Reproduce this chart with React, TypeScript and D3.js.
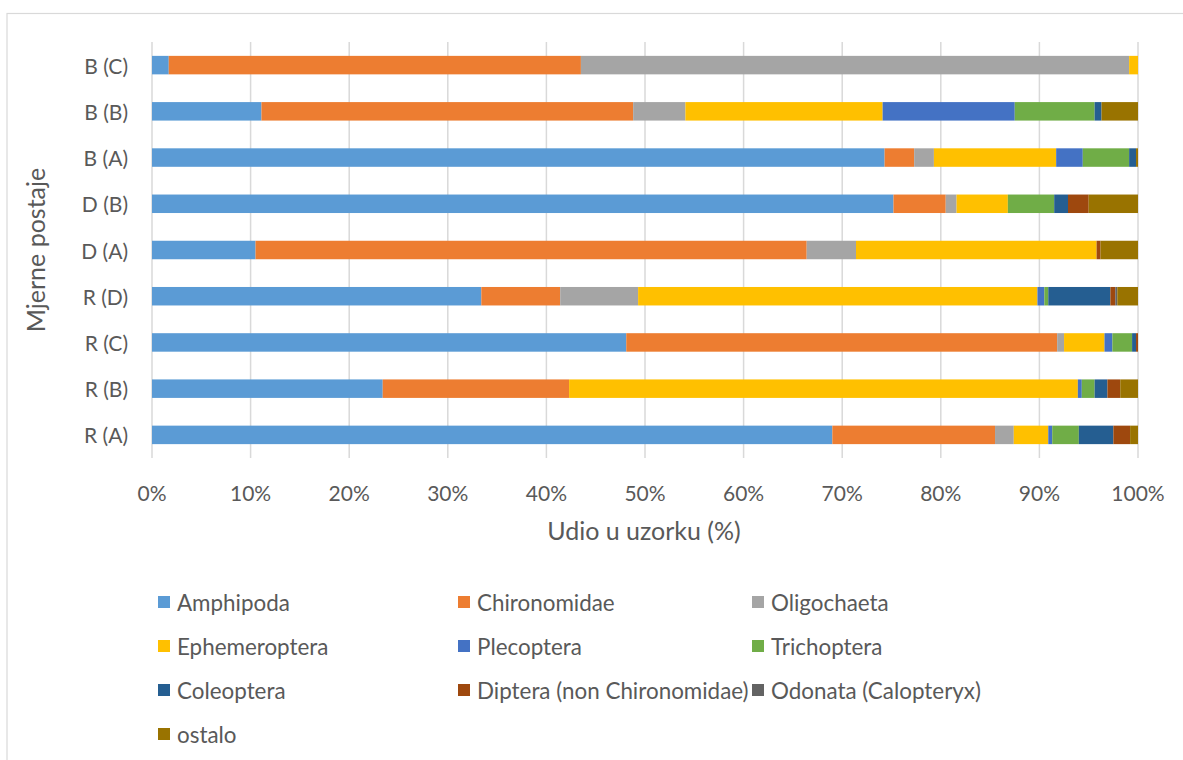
import React from "react";
import * as d3 from "d3";

const stations = ["B (C)", "B (B)", "B (A)", "D (B)", "D (A)", "R (D)", "R (C)", "R (B)", "R (A)"];

const taxa = [
  "Amphipoda",
  "Chironomidae",
  "Oligochaeta",
  "Ephemeroptera",
  "Plecoptera",
  "Trichoptera",
  "Coleoptera",
  "Diptera (non Chironomidae)",
  "Odonata (Calopteryx)",
  "ostalo",
];

const colors = ["#5B9BD5", "#ED7D31", "#A5A5A5", "#FFC000", "#4472C4", "#70AD47", "#255E91", "#9E480E", "#636363", "#997300"];

// share (%) per station, same order as stations
const amphipoda = [1.7, 11.1, 74.3, 75.2, 10.5, 33.4, 48.1, 23.4, 69.0];
const chironomidae = [41.8, 37.7, 3.0, 5.3, 55.9, 8.0, 43.7, 18.9, 16.5];
const oligochaeta = [55.6, 5.3, 2.0, 1.1, 5.0, 7.9, 0.7, 0, 1.9];
const ephemeroptera = [0.9, 20.0, 12.4, 5.2, 24.4, 40.5, 4.1, 51.6, 3.5];
const plecoptera = [0, 13.4, 2.7, 0, 0, 0.7, 0.8, 0.4, 0.4];
const trichoptera = [0, 8.1, 4.7, 4.7, 0, 0.4, 2.0, 1.3, 2.7];
const coleoptera = [0, 0.7, 0.7, 1.4, 0, 6.3, 0.4, 1.3, 3.5];
const diptera = [0, 0, 0, 2.1, 0.4, 0.5, 0.2, 1.3, 1.7];
const odonata = [0, 0, 0, 0, 0, 0.2, 0, 0, 0];
const ostalo = [0, 3.7, 0.2, 5.0, 3.8, 2.1, 0, 1.8, 0.8];

const series = [amphipoda, chironomidae, oligochaeta, ephemeroptera, plecoptera, trichoptera, coleoptera, diptera, odonata, ostalo];

const xTicks = [0, 10, 20, 30, 40, 50, 60, 70, 80, 90, 100];

const W = 1183;
const H = 760;
const left = 152;
const right = 1138;
const top = 42;
const bottom = 458;
const FONT = "Lato, 'Open Sans', sans-serif";
const TEXT = "#595959";

export default function App() {
  const rows = stations.map((s, i) => {
    const obj: Record<string, number | string> = { station: s };
    taxa.forEach((t, j) => (obj[t] = series[j][i]));
    return obj;
  });
  const stacked = d3.stack<any>().keys(taxa)(rows);

  const x = d3.scaleLinear().domain([0, 100]).range([left, right]);
  const y = d3.scaleBand().domain(stations).range([top, bottom]).paddingInner(0.6).paddingOuter(0.3);

  const legendX = [158, 458, 752];
  const legendY = [602, 646, 690, 734];

  return (
    <svg width={W} height={H} style={{ position: "absolute", left: 0, top: 0, background: "#fff" }} fontFamily={FONT}>
      <rect x={7} y={13.5} width={W + 20} height={H + 20} fill="#fff" stroke="#d9d9d9" strokeWidth={1.2} />

      {xTicks.map((t) => (
        <line key={t} x1={x(t)} x2={x(t)} y1={top} y2={bottom} stroke="#d9d9d9" strokeWidth={1.5} />
      ))}

      {stacked.map((layer, j) => (
        <g key={layer.key} fill={colors[j]}>
          {layer.map((d, i) =>
            d[1] - d[0] > 0 ? (
              <rect key={i} x={x(d[0])} y={y(stations[i])!} width={x(d[1]) - x(d[0])} height={y.bandwidth()} />
            ) : null
          )}
        </g>
      ))}

      {xTicks.map((t) => (
        <text key={t} x={x(t)} y={492} textAnchor="middle" dominantBaseline="central" fontSize={21} fill={TEXT}>
          {t}%
        </text>
      ))}

      {stations.map((s) => (
        <text key={s} x={128} y={y(s)! + y.bandwidth() / 2} textAnchor="end" dominantBaseline="central" fontSize={21} fill={TEXT}>
          {s}
        </text>
      ))}

      <text x={(left + right) / 2 - 1} y={530} textAnchor="middle" dominantBaseline="central" fontSize={25} fill={TEXT}>
        Udio u uzorku (%)
      </text>
      <text
        transform={`translate(35, ${(top + bottom) / 2}) rotate(-90)`}
        textAnchor="middle"
        dominantBaseline="central"
        fontSize={25}
        fill={TEXT}
      >
        Mjerne postaje
      </text>

      {taxa.map((t, i) => {
        const lx = legendX[i % 3];
        const ly = legendY[Math.floor(i / 3)];
        return (
          <g key={t}>
            <rect x={lx} y={ly - 6} width={12} height={12} fill={colors[i]} />
            <text x={lx + 19} y={ly} dominantBaseline="central" fontSize={22.4} fill={TEXT}>
              {t}
            </text>
          </g>
        );
      })}
    </svg>
  );
}
